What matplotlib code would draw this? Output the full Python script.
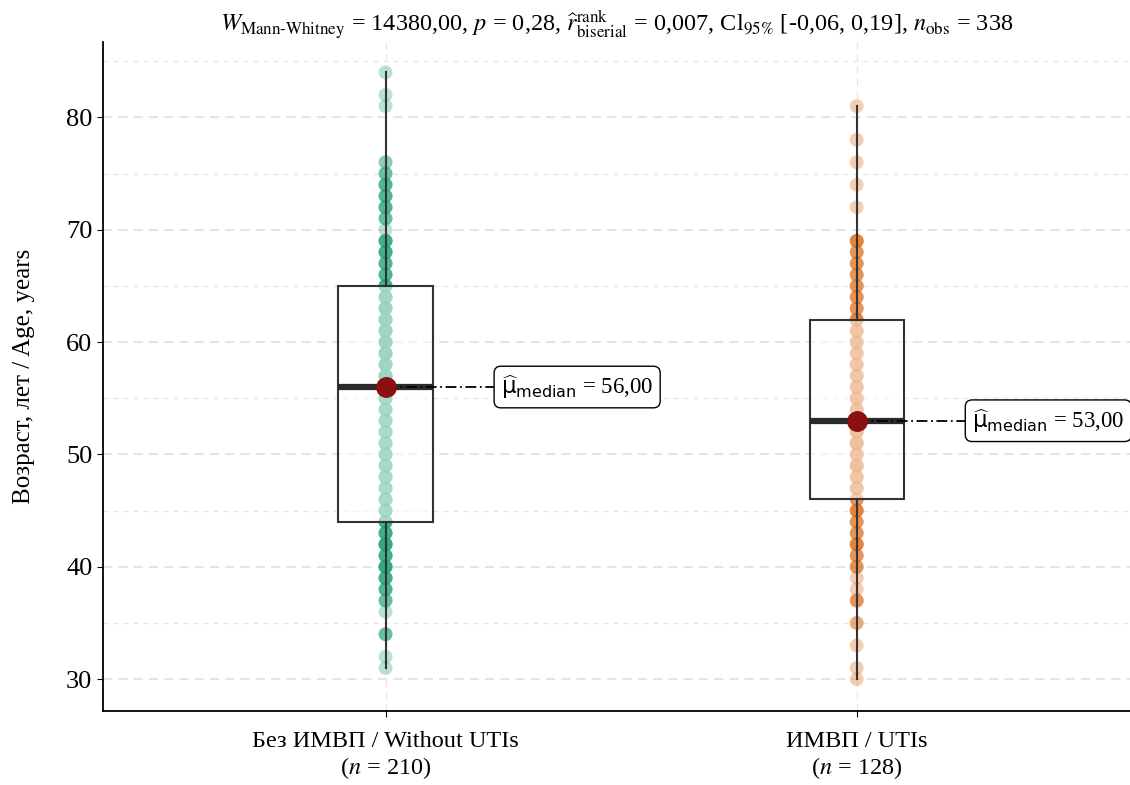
import numpy as np
import matplotlib.pyplot as plt
from matplotlib.ticker import MultipleLocator

# ------ Datos ------
grupos      = ['Без ИМВП / Without UTIs', 'ИМВП / UTIs']
n_grupos    = [210, 128]

edad_sin    = [84, 82, 81, 76, 75, 74, 73, 72, 71, 70, 69, 68, 67, 66, 65,
               64, 63, 62, 61, 60, 59, 58, 57, 56, 55, 54, 53, 52, 51, 50,
               49, 48, 47, 46, 45, 44, 43, 42, 41, 40, 39, 38, 37, 36, 34,
               32, 31]
cuenta_sin  = [1, 1, 1, 2, 3, 4, 4, 4, 3, 1, 5, 5, 4, 4, 5,
               6, 7, 7, 7, 7, 7, 7, 7, 8, 5, 5, 5, 5, 5, 5,
               5, 5, 5, 5, 5, 5, 5, 6, 5, 6, 5, 4, 3, 1, 3,
               1, 1]

edad_con    = [81, 78, 76, 74, 72, 69, 68, 67, 66, 65, 64, 63, 62,
               61, 60, 59, 58, 57, 56, 55, 54, 53, 52, 51, 50, 49, 48, 47,
               46, 45, 44, 43, 42, 41, 40, 39, 38, 37, 35, 33, 31, 30]
cuenta_con  = [1, 1, 1, 1, 1, 4, 3, 3, 3, 3, 3, 3, 4,
               4, 4, 4, 4, 4, 4, 4, 4, 5, 5, 5, 4, 5, 4, 4,
               3, 4, 3, 3, 4, 3, 3, 1, 1, 3, 2, 1, 1, 1]

# estadisticos de la caja (q1, mediana, q3, bigotes)
q1          = [44, 46]
mediana     = [56, 53]
q3          = [65, 62]
bigote_inf  = [31, 30]
bigote_sup  = [84, 81]

colores     = ['#1B9E77', '#D95F02']
titulo      = (r'$W_{\mathrm{Mann\text{-}Whitney}}$ = 14380,00, $p$ = 0,28, '
               r'$\widehat{r}_{\mathrm{biserial}}^{\mathrm{rank}}$ = 0,007, '
               r'Cl$_{95\%}$ [-0,06, 0,19], $n_{\mathrm{obs}}$ = 338')

# ------ Ploteo ------
plt.rcParams['font.family'] = ['Liberation Serif', 'DejaVu Serif']

fig = plt.figure(figsize=(11.3, 7.85), dpi=100)
ax = fig.add_axes([0.091, 0.094, 0.909, 0.852])

datos = [(edad_sin, cuenta_sin), (edad_con, cuenta_con)]
for i, (edades, cuentas) in enumerate(datos):
    x = i + 1
    y = np.repeat(edades, cuentas)
    ax.scatter(np.full(len(y), x), y, s=100, color=colores[i], alpha=0.3,
               edgecolors='none', zorder=2)

stats = []
for i in range(2):
    stats.append({'q1': q1[i], 'med': mediana[i], 'q3': q3[i],
                  'whislo': bigote_inf[i], 'whishi': bigote_sup[i],
                  'fliers': []})
ax.bxp(stats, positions=[1, 2], widths=0.2, showcaps=False, patch_artist=True,
       boxprops=dict(facecolor=(1, 1, 1, 0.55), edgecolor='#333333', linewidth=1.5),
       whiskerprops=dict(color='#333333', linewidth=1.5),
       medianprops=dict(color='#2b2b2b', linewidth=4.5), zorder=3)

for i in range(2):
    x = i + 1
    ax.plot([x, x + 0.245], [mediana[i], mediana[i]], color='black', lw=1.3,
            ls=(0, (6, 2, 1, 2)), zorder=4)
    ax.plot(x, mediana[i], 'o', color='#8B1010', markersize=14, zorder=5)
    ax.text(x + 0.245, mediana[i],
            r'$\widehat{\mathsf{μ}}_{\mathsf{median}}$' + ' = %d,00' % mediana[i],
            va='center', ha='left', fontsize=16.5, math_fontfamily='dejavusans',
            bbox=dict(boxstyle='round,pad=0.3', facecolor='white',
                      edgecolor='black', linewidth=1), zorder=6)

ax.set_xlim(0.40, 2.58)
ax.set_ylim(27.15, 86.67)
ax.set_xticks([1, 2])
ax.set_xticklabels(['%s\n($n$ = %d)' % (g, n) for g, n in zip(grupos, n_grupos)],
                   fontsize=17.5, math_fontfamily='stix')
ax.yaxis.set_major_locator(MultipleLocator(10))
ax.yaxis.set_minor_locator(MultipleLocator(5))
ax.tick_params(axis='y', labelsize=19, length=4, which='major')
ax.tick_params(axis='y', which='minor', length=0)
ax.tick_params(axis='x', length=4, pad=10)
ax.set_ylabel('Возраст, лет / Age, years', fontsize=18, labelpad=22)

ax.grid(axis='y', which='major', color='#dddddd', ls=(0, (6, 4)), lw=1.1)
ax.grid(axis='y', which='minor', color='#e6e6e6', ls=(0, (4, 4)), lw=0.9)
ax.grid(axis='x', which='major', color='#e6e6e6', ls=(0, (6, 4)), lw=0.9)
ax.set_axisbelow(True)
for s in ['top', 'right']:
    ax.spines[s].set_visible(False)
ax.spines['left'].set_linewidth(1.3)
ax.spines['bottom'].set_linewidth(1.3)

ax.set_title(titulo, fontsize=17.5, math_fontfamily='stix', pad=8)

fig.savefig('out.png', dpi=100)
